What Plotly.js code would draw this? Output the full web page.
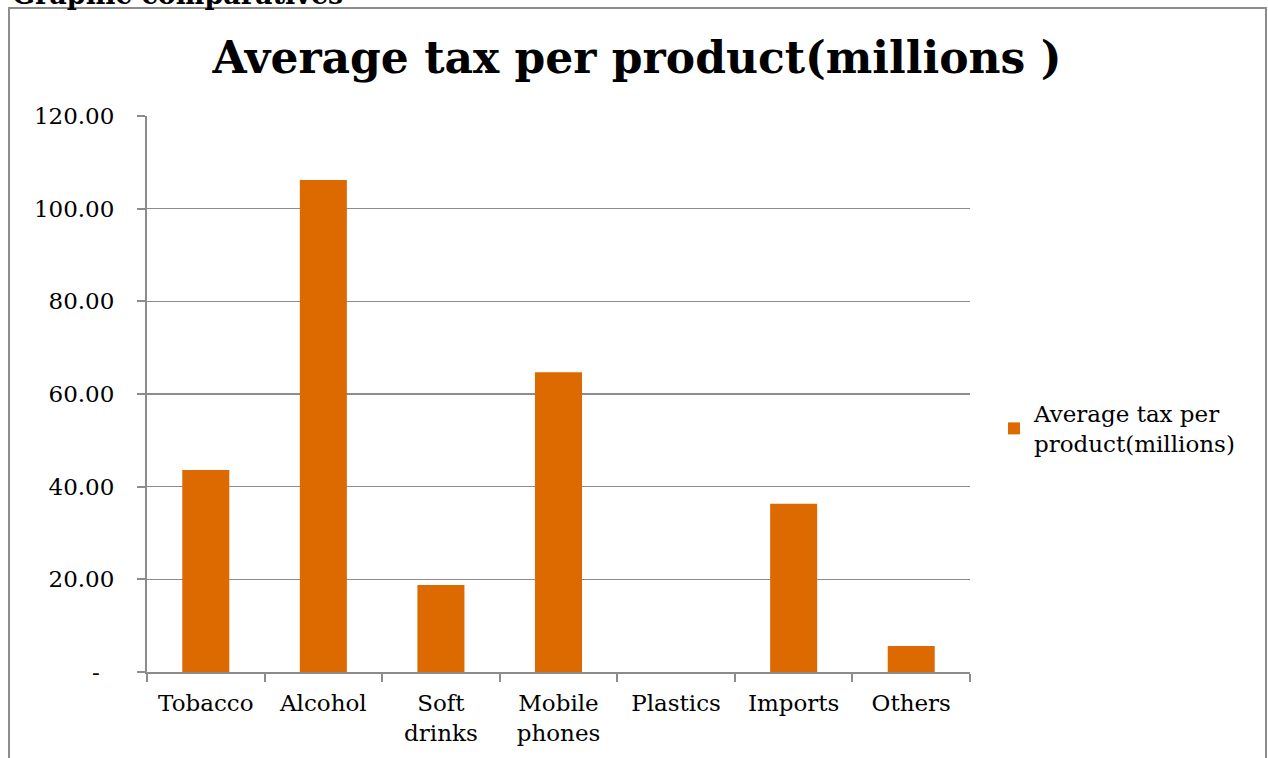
<!DOCTYPE html>
<html>
<head>
<meta charset="utf-8">
<script src="https://cdn.plot.ly/plotly-3.0.1.min.js"></script>
<style>
html,body{margin:0;padding:0;background:#fff;}
#chart{width:1268px;height:758px;}
</style>
</head>
<body>
<div id="chart"></div>
<script>
const categories = ["Tobacco", "Alcohol", "Soft<br>drinks", "Mobile<br>phones", "Plastics", "Imports", "Others"];
const values = [43.6, 106.2, 18.8, 64.7, 0, 36.3, 5.6];
const yTickVals = [0, 20, 40, 60, 80, 100, 120];
const yTickText = ["-  ", "20.00", "40.00", "60.00", "80.00", "100.00", "120.00"];
const seriesName = "Average tax per<br>product(millions)";
const chartTitle = "Average tax per product(millions )";
const pageHeading = "Graphic comparatives";

const FONT = "DejaVu Serif, Liberation Serif, serif";
const W = 1268, H = 758;
const L = 147, R = 970, T = 116, B = 672;
const pw = R - L, ph = B - T;
const px = x => (x - L) / pw;
const py = y => (B - y) / ph;

const trace = {
  type: "bar",
  x: categories,
  y: values,
  name: seriesName,
  marker: {color: "#dd6a00"},
  showlegend: true
};

const layout = {
  width: W, height: H,
  margin: {l: L, r: W - R, t: T, b: H - B, pad: 0},
  paper_bgcolor: "#fff",
  plot_bgcolor: "#fff",
  font: {family: FONT, color: "#000", size: 23},
  bargap: 0.6,
  title: {
    text: "<b>" + chartTitle + "</b>",
    font: {family: FONT, size: 44, color: "#000"},
    xref: "paper", x: px(637), xanchor: "center",
    yref: "container", y: 1 - 58 / H, yanchor: "middle"
  },
  xaxis: {
    showgrid: false,
    showline: true, linecolor: "#8c8c8c", linewidth: 2,
    ticks: "outside", tickson: "boundaries", ticklen: 8, tickcolor: "#8c8c8c", tickwidth: 2,
    tickfont: {family: FONT, size: 23, color: "#000"},
    ticklabelstandoff: 9,
    fixedrange: true
  },
  yaxis: {
    range: [0, 120],
    tickvals: yTickVals, ticktext: yTickText,
    showgrid: true, gridcolor: "#8c8c8c", gridwidth: 1.5,
    showline: true, linecolor: "#8c8c8c", linewidth: 2,
    ticks: "outside", ticklen: 8, tickcolor: "#8c8c8c", tickwidth: 2,
    tickfont: {family: FONT, size: 23, color: "#000"},
    ticklabelstandoff: 18,
    zeroline: false,
    fixedrange: true
  },
  legend: {
    x: px(994), xanchor: "left",
    y: py(392), yanchor: "top",
    font: {family: FONT, size: 23, color: "#000"},
    itemwidth: 30,
    bgcolor: "rgba(0,0,0,0)"
  },
  shapes: [
    {type: "rect", xref: "paper", yref: "paper",
     x0: px(9), x1: px(1266), y0: py(800), y1: py(8),
     line: {color: "#8c8c8c", width: 2}, fillcolor: "rgba(0,0,0,0)", layer: "below"}
  ],
  annotations: [
    {text: "<b>" + pageHeading + "</b>", xref: "paper", yref: "paper",
     x: px(10), xanchor: "left", y: py(12), yanchor: "bottom",
     showarrow: false, font: {family: FONT, size: 27, color: "#000"}}
  ]
};

Plotly.newPlot("chart", [trace], layout, {displayModeBar: false, staticPlot: true});
</script>
</body>
</html>
